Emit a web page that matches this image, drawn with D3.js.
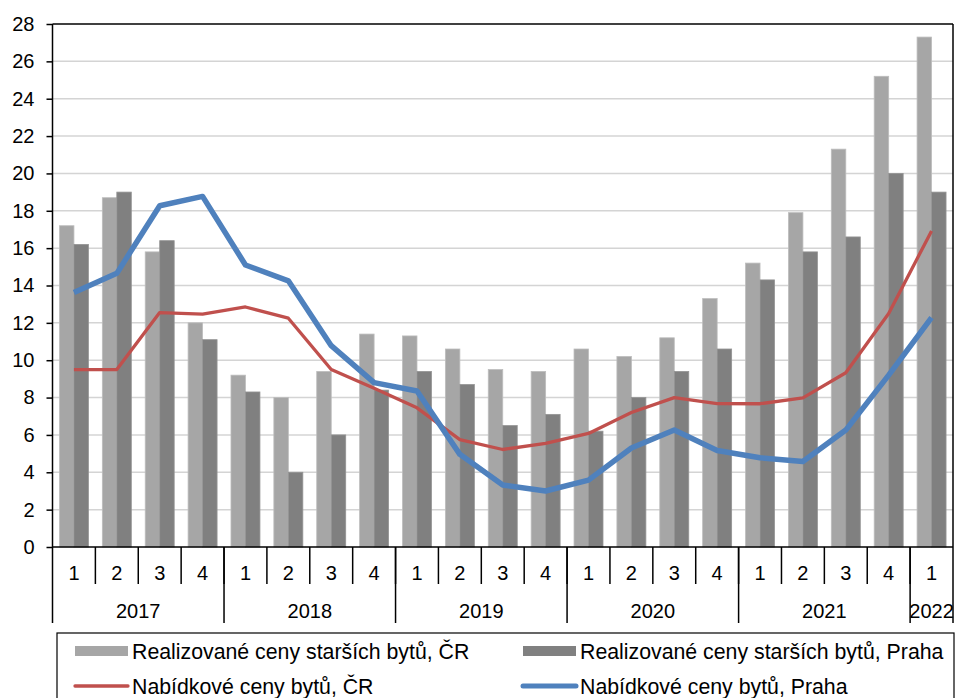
<!DOCTYPE html>
<html><head><meta charset="utf-8">
<script src="https://cdn.jsdelivr.net/npm/d3@7"></script>
<style>
html,body{margin:0;padding:0;background:#fff;}
svg{display:block;font-family:"Liberation Sans",Arial,sans-serif;}
</style></head>
<body>
<svg id="chart" width="956" height="698"></svg>
<script>
const quarters = ["1","2","3","4","1","2","3","4","1","2","3","4","1","2","3","4","1","2","3","4","1"];
const years = ["2017","2018","2019","2020","2021","2022"];
const yearSpans = [4,4,4,4,4,1];
const realCR =    [17.2,18.7,15.8,12.0, 9.2,8.0,9.4,11.4, 11.3,10.6,9.5,9.4, 10.6,10.2,11.2,13.3, 15.2,17.9,21.3,25.2, 27.3];
const realPraha = [16.2,19.0,16.4,11.1, 8.3,4.0,6.0,8.4, 9.4,8.7,6.5,7.1, 6.2,8.0,9.4,10.6, 14.3,15.8,16.6,20.0, 19.0];
const offerCR =   [9.5,9.5,12.55,12.47, 12.85,12.25,9.5,8.5, 7.45,5.75,5.22,5.55, 6.08,7.2,8.0,7.68, 7.67,7.98,9.33,12.5, 16.92];
const offerPraha =[13.63,14.65,18.27,18.77, 15.1,14.25,10.78,8.8, 8.35,4.96,3.32,3.0, 3.58,5.3,6.26,5.17, 4.78,4.58,6.26,9.2, 12.28];
const yTicks = [0,2,4,6,8,10,12,14,16,18,20,22,24,26,28];
const legendLabels = ["Realizované ceny starších bytů, ČR","Realizované ceny starších bytů, Praha","Nabídkové ceny bytů, ČR","Nabídkové ceny bytů, Praha"];

const svg = d3.select("#chart");
const L = 52.5, R = 953, T = 24, B = 547;
const idx = d3.range(quarters.length);
const x = d3.scaleBand().domain(idx).range([L, R]).paddingInner(0).paddingOuter(0);
const xs = d3.scaleBand().domain(["cr","praha"]).range([0, x.bandwidth()]).paddingInner(0).paddingOuter(0.48);
const y = d3.scaleLinear().domain([0, 28]).range([B, T]);
const bw = x.bandwidth();

// gridlines
svg.append("g").selectAll("line").data(yTicks.filter(d => d > 0 && d < 28)).join("line")
  .attr("x1", L).attr("x2", R).attr("y1", d => y(d)).attr("y2", d => y(d))
  .attr("stroke", "#d4d4d4").attr("stroke-width", 1.5);

// bars
const gb = svg.append("g");
gb.selectAll("rect.cr").data(realCR).join("rect").attr("class","cr")
  .attr("x", (d,i) => x(i) + xs("cr")).attr("width", xs.bandwidth())
  .attr("y", d => y(d)).attr("height", d => y(0) - y(d))
  .attr("fill", "#a6a6a6").attr("stroke", "#bdbdbd").attr("stroke-width", 0.8);
gb.selectAll("rect.pr").data(realPraha).join("rect").attr("class","pr")
  .attr("x", (d,i) => x(i) + xs("praha")).attr("width", xs.bandwidth())
  .attr("y", d => y(d)).attr("height", d => y(0) - y(d))
  .attr("fill", "#808080").attr("stroke", "#949494").attr("stroke-width", 0.8);

// lines
const line = d3.line().x((d,i) => x(i) + bw/2).y(d => y(d));
svg.append("path").datum(offerCR).attr("d", line).attr("fill","none")
  .attr("stroke", "#c0504d").attr("stroke-width", 3.3).attr("stroke-linejoin","round");
svg.append("path").datum(offerPraha).attr("d", line).attr("fill","none")
  .attr("stroke", "#4f81bd").attr("stroke-width", 5.5).attr("stroke-linejoin","round");

// frame: top and right
svg.append("line").attr("x1", L).attr("x2", R).attr("y1", T).attr("y2", T).attr("stroke","#000").attr("stroke-width",1.5);
svg.append("line").attr("x1", R).attr("x2", R).attr("y1", T).attr("y2", 623).attr("stroke","#000").attr("stroke-width",1.5);

// y axis
const yAxis = d3.axisLeft(y).tickValues(yTicks).tickSize(6).tickPadding(12).tickFormat(d3.format("d"));
const gy = svg.append("g").attr("transform", `translate(${L},0)`).call(yAxis);
gy.select(".domain").remove();
gy.selectAll(".tick line").attr("stroke","#000").attr("stroke-width",1.5);
gy.selectAll(".tick text").attr("font-size", 20).attr("fill","#000")
  .attr("font-family", '"Liberation Sans",Arial,sans-serif');
svg.append("line").attr("x1", L).attr("x2", L).attr("y1", T).attr("y2", 623).attr("stroke","#000").attr("stroke-width",1.5);

// x axis line
svg.append("line").attr("x1", L).attr("x2", R).attr("y1", B).attr("y2", B).attr("stroke","#000").attr("stroke-width",1.5);

// quarter separators
const gx = svg.append("g");
gx.selectAll("line.q").data(idx.slice(1)).join("line").attr("class","q")
  .attr("x1", d => x(d)).attr("x2", d => x(d)).attr("y1", B).attr("y2", 584)
  .attr("stroke","#000").attr("stroke-width",1.5);
gx.selectAll("text.q").data(quarters).join("text").attr("class","q")
  .attr("x", (d,i) => x(i) + bw/2).attr("y", 580).attr("text-anchor","middle")
  .attr("font-size", 20).attr("fill","#000").text(d => d);

// year separators and labels
let starts = []; let acc = 0;
yearSpans.forEach(s => { starts.push(acc); acc += s; });
gx.selectAll("line.y").data(starts.slice(1)).join("line").attr("class","y")
  .attr("x1", d => x(d)).attr("x2", d => x(d)).attr("y1", B).attr("y2", 623)
  .attr("stroke","#000").attr("stroke-width",1.5);
gx.selectAll("text.y").data(years).join("text").attr("class","y")
  .attr("x", (d,i) => x(starts[i]) + bw*yearSpans[i]/2).attr("y", 618).attr("text-anchor","middle")
  .attr("font-size", 20).attr("fill","#000").text(d => d);

// legend
const lg = svg.append("g");
lg.append("rect").attr("x", 57).attr("y", 633).attr("width", 897).attr("height", 90)
  .attr("fill","#fff").attr("stroke","#000").attr("stroke-width",1.2);
const items = [
  {t: legendLabels[0], type:"rect", c:"#a6a6a6", x:75, y:651},
  {t: legendLabels[1], type:"rect", c:"#808080", x:523, y:651},
  {t: legendLabels[2], type:"line", c:"#c0504d", w:3.3, x:75, y:686},
  {t: legendLabels[3], type:"line", c:"#4f81bd", w:5, x:523, y:686}
];
items.forEach(it => {
  if (it.type === "rect") {
    lg.append("rect").attr("x", it.x).attr("y", it.y - 5).attr("width", 53).attr("height", 10).attr("fill", it.c);
  } else {
    lg.append("line").attr("x1", it.x).attr("x2", it.x + 53).attr("y1", it.y).attr("y2", it.y)
      .attr("stroke", it.c).attr("stroke-width", it.w).attr("stroke-linecap","round");
  }
  lg.append("text").attr("x", it.x + 57).attr("y", it.y + 7.5).attr("font-size", 21.3).attr("fill","#000").text(it.t);
});
</script>
</body></html>
